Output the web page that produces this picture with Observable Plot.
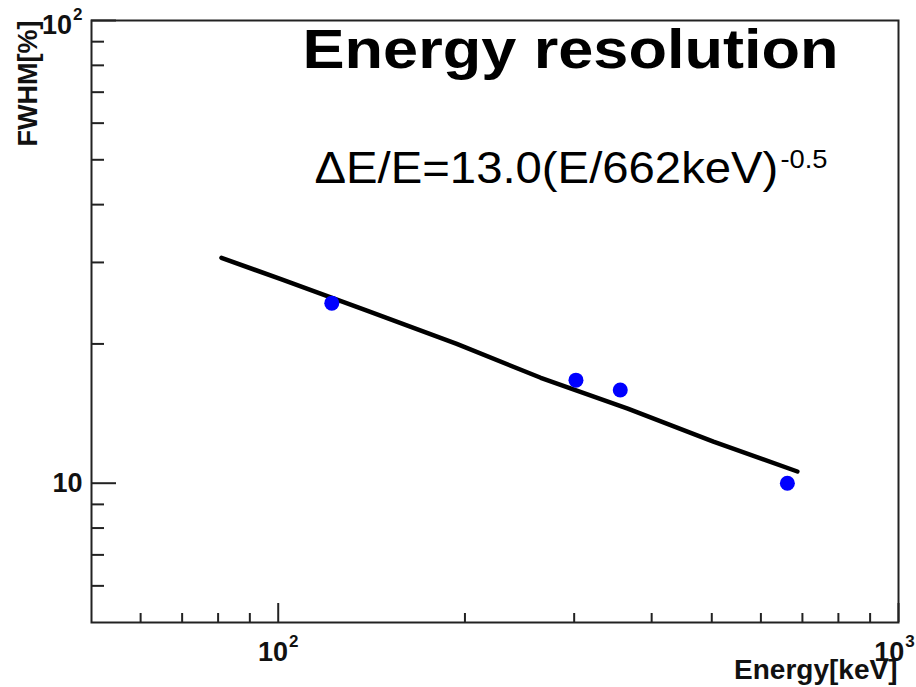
<!DOCTYPE html>
<html>
<head>
<meta charset="utf-8">
<script src="https://cdn.jsdelivr.net/npm/d3@7"></script>
<script src="https://cdn.jsdelivr.net/npm/@observablehq/plot@0.6"></script>
<style>
  html, body { margin: 0; padding: 0; background: #fff; }
</style>
</head>
<body>
<div id="chart"></div>
<script>
// Measured points (energy keV, FWHM %)
const pointEnergy = [122, 302, 356, 662];
const pointFWHM = [24.5, 16.7, 15.9, 10.0];

// Fit curve
const fitEnergy = [81, 101, 139, 194, 265, 366, 503, 687];
const fitFWHM = [30.7, 27.6, 23.6, 20.0, 16.9, 14.5, 12.3, 10.6];

// Axis ticks
const xMajorTicks = [100, 1000];
const xMinorTicks = [60, 70, 80, 90, 200, 300, 400, 500, 600, 700, 800, 900];
const yMajorTicks = [10, 100];
const yMinorTicks = [6, 7, 8, 9, 20, 30, 40, 50, 60, 70, 80, 90];
const xTickLabels = ["10^2", "10^3"];
const yTickLabels = ["10", "10^2"];

const titleText = "Energy resolution";
const formulaText = "ΔE/E=13.0(E/662keV)^-0.5";
const xTitle = "Energy[keV]";
const yTitle = "FWHM[%]";

const points = pointEnergy.map((e, i) => ({e, f: pointFWHM[i]}));
const fit = fitEnergy.map((e, i) => ({e, f: fitFWHM[i]}));

const W = 916, H = 687;
const mL = 91, mR = 18, mT = 20, mB = 65;
const pw = W - mL - mR, ph = H - mT - mB;
const font = "'Liberation Sans', Arial, Helvetica, sans-serif";

const chart = Plot.plot({
  width: W,
  height: H,
  marginLeft: mL,
  marginRight: mR,
  marginTop: mT,
  marginBottom: mB,
  style: {background: "white", fontFamily: font, overflow: "visible"},
  x: {type: "log", domain: [50, 1000], axis: null},
  y: {type: "log", domain: [5, 100], axis: null},
  marks: [
    Plot.frame({stroke: "#222", strokeWidth: 2}),
    // x ticks (inward, bottom)
    Plot.tickX(xMajorTicks, {x: d => d, stroke: "#222", strokeWidth: 2, insetTop: ph - 19}),
    Plot.tickX(xMinorTicks, {x: d => d, stroke: "#222", strokeWidth: 2, insetTop: ph - 9}),
    // y ticks (inward, left)
    Plot.tickY(yMajorTicks, {y: d => d, stroke: "#222", strokeWidth: 2, insetRight: pw - 25}),
    Plot.tickY(yMinorTicks, {y: d => d, stroke: "#222", strokeWidth: 2, insetRight: pw - 13}),
    // x tick labels
    Plot.text([xMajorTicks[0]], {x: d => d, text: () => xTickLabels[0], frameAnchor: "bottom",
      dy: 38, lineAnchor: "bottom", textAnchor: "middle", fontSize: 27, fontWeight: "bold", fill: "#111"}),
    Plot.text([xMajorTicks[1]], {x: d => d, text: () => xTickLabels[1], frameAnchor: "bottom",
      dx: -4, dy: 38, lineAnchor: "bottom", textAnchor: "middle", fontSize: 27, fontWeight: "bold", fill: "#111"}),
    // y tick labels
    Plot.text([yMajorTicks[0]], {y: d => d, text: () => yTickLabels[0], frameAnchor: "left",
      dx: -9, lineAnchor: "middle", textAnchor: "end", fontSize: 27, fontWeight: "bold", fill: "#111"}),
    Plot.text([yMajorTicks[1]], {y: d => d, text: () => yTickLabels[1], frameAnchor: "left",
      dx: -9, dy: 5, lineAnchor: "middle", textAnchor: "end", fontSize: 27, fontWeight: "bold", fill: "#111"}),
    // axis titles
    Plot.text([xTitle], {frameAnchor: "bottom-right", dx: -1, dy: 56, lineAnchor: "bottom",
      textAnchor: "end", fontSize: 28, fontWeight: "bold", fill: "#111"}),
    Plot.text([yTitle], {frameAnchor: "top-left", dx: -63, dy: 0, rotate: -90, lineAnchor: "middle",
      textAnchor: "end", fontSize: 27, fontWeight: "bold", fill: "#111"}),
    // fit line
    Plot.line(fit, {x: "e", y: "f", stroke: "black", strokeWidth: 4.5}),
    // points
    Plot.dot(points, {x: "e", y: "f", r: 7.5, fill: "#0000ff", stroke: "none"}),
    // title & formula
    Plot.text([titleText], {frameAnchor: "top-left", dx: 211, dy: 47, lineAnchor: "bottom",
      textAnchor: "start", fontSize: 56, fontWeight: "bold", fill: "black"}),
    Plot.text([formulaText], {frameAnchor: "top-left", dx: 223, dy: 162, lineAnchor: "bottom",
      textAnchor: "start", fontSize: 45, fill: "black"})
  ]
});

function fontSizeOf(node) {
  while (node && node.getAttribute) {
    const fs = node.getAttribute("font-size");
    if (fs) return parseFloat(fs);
    node = node.parentNode;
  }
  return 27;
}

// turn "base^exp" into a superscript tspan
d3.select(chart).selectAll("text").each(function() {
  const txt = this.textContent;
  if (txt === titleText) {
    this.setAttribute("textLength", 536);
    this.setAttribute("lengthAdjust", "spacingAndGlyphs");
    return;
  }
  if (!txt.includes("^")) return;
  const [base, exp] = txt.split("^");
  const fs = fontSizeOf(this);
  const isFormula = txt === formulaText;
  const supSize = isFormula ? 26 : 17;
  const rise = isFormula ? 15 : 14;
  const target = this.querySelector("tspan") ? this.querySelector("tspan").parentNode : this;
  if (this.querySelector("tspan")) this.querySelector("tspan").textContent = base;
  else d3.select(this).text(base);
  d3.select(target).append("tspan").attr("font-size", supSize).attr("font-weight", isFormula ? "normal" : "bold")
    .attr("dx", isFormula ? 2 : 1).attr("dy", -rise).text(exp);
  if (isFormula) {
    this.setAttribute("textLength", 513);
    this.setAttribute("lengthAdjust", "spacingAndGlyphs");
  }
});

document.getElementById("chart").appendChild(chart);
</script>
</body>
</html>
